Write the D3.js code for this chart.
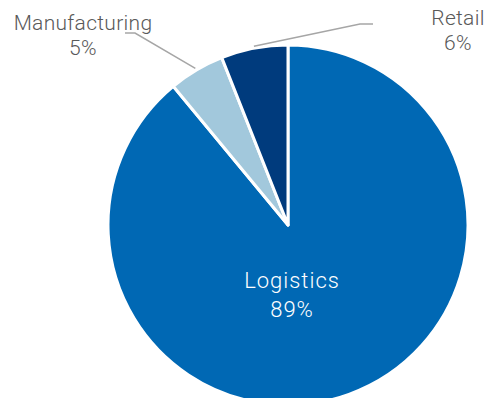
<!DOCTYPE html>
<html>
<head>
    <script src="https://d3js.org/d3.v7.min.js"></script>
    <style>
        body { margin: 0; background: #fff; }
        svg { display: block; }
        .lbl { font-family: Roboto, sans-serif; font-weight: 300; font-size: 21px; letter-spacing: 0.3px; }
        .lbl-in { font-family: Roboto, sans-serif; font-weight: 300; font-size: 22px; letter-spacing: 1px; }
    </style>
</head>
<body>
    <div id="chart"></div>
    <script>
        // Data
        const categories = ['Logistics', 'Manufacturing', 'Retail'];
        const shares = [89, 5, 6];
        const sliceColors = ['#0068b4', '#a2c8dc', '#003b7d'];

        const width = 490, height = 398;
        const cx = 288, cy = 225, radius = 180;

        const svg = d3.select('#chart').append('svg')
            .attr('width', width)
            .attr('height', height);

        const data = categories.map((c, i) => ({ name: c, value: shares[i], color: sliceColors[i] }));

        const pie = d3.pie().value(d => d.value).sort(null);
        const arc = d3.arc().innerRadius(0).outerRadius(radius);
        const arcs = pie(data);

        const g = svg.append('g').attr('transform', `translate(${cx},${cy})`);

        g.selectAll('path')
            .data(arcs)
            .enter().append('path')
            .attr('d', arc)
            .attr('fill', d => d.data.color)
            .attr('stroke', '#fff')
            .attr('stroke-width', 3)
            .attr('stroke-linejoin', 'round');

        // Leader lines for the small slices
        const pt = (a, r) => [Math.sin(a) * r, -Math.cos(a) * r];
        const leaders = {
            'Manufacturing': { pts: [[-163, -192], [-153, -192]], text: [-205, -195], gap: 25 },
            'Retail': { pts: [[72, -201], [85, -201]], text: [170, -200], gap: 25 }
        };

        arcs.forEach(d => {
            const L = leaders[d.data.name];
            const mid = (d.startAngle + d.endAngle) / 2;
            if (L) {
                const start = pt(mid, radius + 2);
                const line = d.data.name === 'Retail' ? [start, L.pts[0], L.pts[1]] : [start, L.pts[1], L.pts[0]];
                g.append('polyline')
                    .attr('points', line.map(p => p.join(',')).join(' '))
                    .attr('fill', 'none')
                    .attr('stroke', '#a6a6a6')
                    .attr('stroke-width', 1.5);
                const t = g.append('text').attr('class', 'lbl')
                    .attr('text-anchor', 'middle')
                    .attr('fill', '#595959')
                    .attr('x', L.text[0]).attr('y', L.text[1]);
                t.append('tspan').attr('x', L.text[0]).text(d.data.name);
                t.append('tspan').attr('x', L.text[0]).attr('dy', L.gap).text(d.data.value + '%');
            } else {
                const t = g.append('text').attr('class', 'lbl-in')
                    .attr('text-anchor', 'middle')
                    .attr('fill', '#fff')
                    .attr('x', 4).attr('y', 63);
                t.append('tspan').attr('x', 4).text(d.data.name);
                t.append('tspan').attr('x', 4).attr('dy', 29).text(d.data.value + '%');
            }
        });
    </script>
</body>
</html>
